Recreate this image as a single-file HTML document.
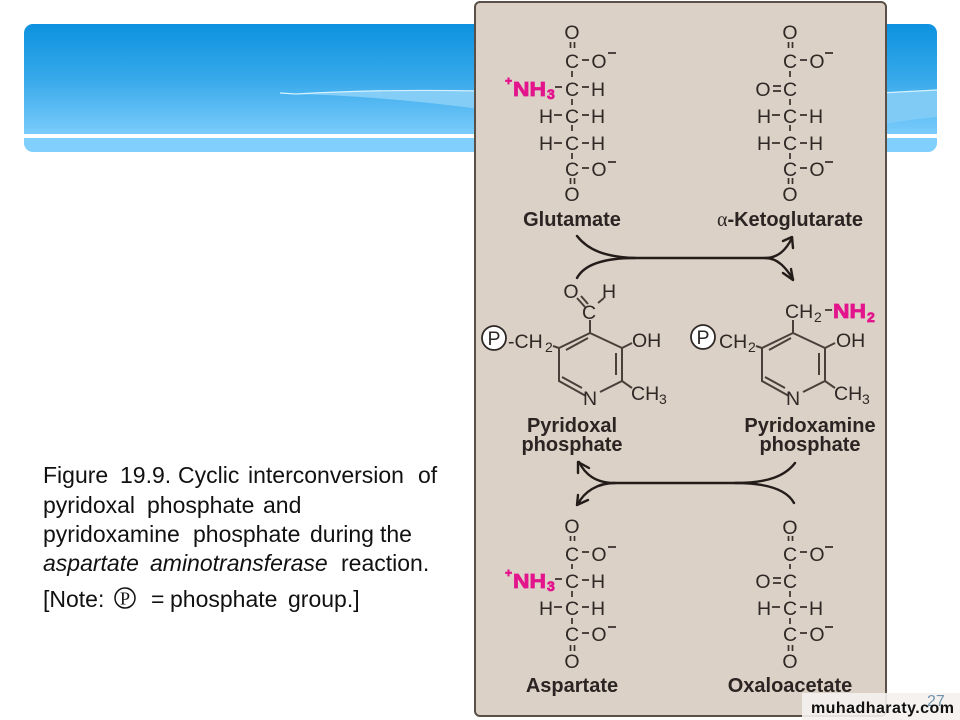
<!DOCTYPE html>
<html><head><meta charset="utf-8"><style>
html,body{margin:0;padding:0;background:#fff}
svg{display:block}
text{font-family:"Liberation Sans",sans-serif}
.a{font-size:19.5px;text-anchor:middle;fill:#2f2825}
.s{font-size:19.5px;fill:#2f2825}
.sub{font-size:14px;fill:#2f2825}
.l{font-size:20px;font-weight:bold;text-anchor:middle;fill:#2b2422}
.p{font-weight:bold;fill:#e3148c;stroke:#e3148c;stroke-width:.8}
.t{font-size:23px;fill:#111}
.b{stroke:#3a312c;stroke-width:1.7;fill:none}
.r{stroke:#4a403a;stroke-width:2;fill:none}
.w{stroke:#231c19;fill:none;stroke-linecap:round;stroke-linejoin:round}
</style></head><body>
<svg width="960" height="720" viewBox="0 0 960 720" xmlns="http://www.w3.org/2000/svg">
<defs>
<linearGradient id="g" x1="0" y1="0" x2="0" y2="1">
<stop offset="0" stop-color="#0d92df"/><stop offset=".5" stop-color="#37a9ea"/><stop offset="1" stop-color="#7acbfb"/>
</linearGradient>
<clipPath id="bc"><rect x="24" y="24" width="913" height="128" rx="9"/></clipPath>
</defs>
<rect width="960" height="720" fill="#fff"/>
<g clip-path="url(#bc)">
<rect x="24" y="24" width="913" height="110" fill="url(#g)"/>
<rect x="24" y="134" width="913" height="4" fill="#fff"/>
<rect x="24" y="138" width="913" height="14" fill="#80cffc"/>
<path d="M296 94 Q380 89 480 91 L480 109 Q380 96 296 94Z" fill="#83cdf6"/>
<path d="M280 93 L296 94 Q380 89 480 91" stroke="#d5f1ff" stroke-width="1.2" fill="none"/>
<path d="M880 93 L937 90 L937 117 Q905 120 880 125Z" fill="#7fcbf6"/>
<path d="M880 93 L937 90" stroke="#d5f1ff" stroke-width="1.2" fill="none"/>
</g>
<rect x="475" y="2" width="411" height="714" rx="5" fill="#dbd1c7" stroke="#5a5048" stroke-width="2"/>

<!-- Glutamate -->
<text class="a" x="572" y="39">O</text><text class="a" x="572" y="68">C</text><text class="a" x="572" y="96">C</text><text class="a" x="572" y="123">C</text><text class="a" x="572" y="150">C</text><text class="a" x="572" y="176">C</text><text class="a" x="572" y="201">O</text>
<text class="a" x="599" y="68">O</text><text class="a" x="599" y="176">O</text>
<text class="a" x="598" y="96">H</text><text class="a" x="598" y="123">H</text><text class="a" x="598" y="150">H</text>
<text class="a" x="546" y="123">H</text><text class="a" x="546" y="150">H</text>
<path class="b" d="M570.5 42V48M574.5 42V48M570.5 178V184M574.5 178V184M572 71V77M572 99V105M572 125V131M572 153V159M582 60H589M582 87H589M582 115H589M582 143H589M582 168H589M554 115H562M554 143H562M555 87H562M608 53H616M608 162H616"/>
<text class="p" x="513" y="96" font-size="20" textLength="33" lengthAdjust="spacingAndGlyphs">NH</text>
<text class="p" x="547" y="99" font-size="14">3</text>
<text class="p" x="505" y="85" font-size="12">+</text>
<text class="l" x="572" y="226">Glutamate</text>

<!-- Ketoglutarate -->
<text class="a" x="790" y="39">O</text><text class="a" x="790" y="68">C</text><text class="a" x="790" y="96">C</text><text class="a" x="790" y="123">C</text><text class="a" x="790" y="150">C</text><text class="a" x="790" y="176">C</text><text class="a" x="790" y="201">O</text>
<text class="a" x="817" y="68">O</text><text class="a" x="817" y="176">O</text>
<text class="a" x="763" y="96">O</text>
<text class="a" x="816" y="123">H</text><text class="a" x="816" y="150">H</text>
<text class="a" x="764" y="123">H</text><text class="a" x="764" y="150">H</text>
<path class="b" d="M788.5 42V48M792.5 42V48M788.5 178V184M792.5 178V184M790 71V77M790 99V105M790 125V131M790 153V159M800 60H807M800 115H807M800 143H807M800 168H807M772 115H780M772 143H780M773 86H781M773 91H781M825 53H833M825 162H833"/>
<text class="l" x="790" y="226"><tspan font-family="Liberation Serif" font-weight="normal">α</tspan>-Ketoglutarate</text>

<!-- Top arrows -->
<path class="w" stroke-width="2.4" d="M577 236 C588 250 605 257 635 258 L765 258 C778 258 786 250 792 238"/>
<path class="w" stroke-width="2.4" d="M577 278 C584 265 603 258 635 258 M765 258 C778 258 786 268 793 279"/>
<path class="w" stroke-width="2.4" d="M783 241 L792 237 L793 248 M783 273 L793 280 L791 269"/>

<!-- Pyridoxal phosphate -->
<text class="a" x="571" y="298">O</text><text class="a" x="609" y="298">H</text><text class="a" x="589" y="319">C</text>
<path class="r" d="M577 298L585 307M581 296L588 304M598 303L604 298M590 320V333"/>
<path class="r" d="M590 333L622 348V381L600 392M586 396L559 381V348L590 333M566 350L588 338M616 353V375M562 377L582 388M622 381L632 388M622 348L632 343M553 346L559 348"/>
<circle cx="494" cy="338" r="12" fill="#fff" stroke="#2f2825" stroke-width="1.8"/>
<text class="a" x="494" y="345">P</text>
<text class="s" x="508" y="348">-CH</text><text class="sub" x="545" y="352">2</text>
<text class="s" x="632" y="347">OH</text>
<text class="s" x="631" y="400">CH</text><text class="sub" x="659" y="404">3</text>
<text class="a" x="590" y="405">N</text>
<text class="l" x="572" y="432">Pyridoxal</text><text class="l" x="572" y="451">phosphate</text>

<!-- Pyridoxamine phosphate -->
<path class="r" d="M793 320V333M793 333L825 348V381L803 392M789 396L762 381V348L793 333M769 350L791 338M819 353V375M765 377L785 388M825 381L835 388M825 348L835 343M756 346L762 348"/>
<circle cx="703" cy="337" r="12" fill="#fff" stroke="#2f2825" stroke-width="1.8"/>
<text class="a" x="703" y="344">P</text>
<text class="s" x="719" y="348">CH</text><text class="sub" x="748" y="352">2</text>
<text class="s" x="785" y="318">CH</text><text class="sub" x="814" y="322">2</text>
<path class="b" d="M825 310H832"/>
<text class="p" x="833" y="318" font-size="20" textLength="33" lengthAdjust="spacingAndGlyphs">NH</text>
<text class="p" x="867" y="322" font-size="14">2</text>
<text class="s" x="836" y="347">OH</text>
<text class="s" x="834" y="400">CH</text><text class="sub" x="862" y="404">3</text>
<text class="a" x="793" y="405">N</text>
<text class="l" x="810" y="432">Pyridoxamine</text><text class="l" x="810" y="451">phosphate</text>

<!-- Bottom arrows -->
<path class="w" stroke-width="2.4" d="M795 463 C785 476 768 483 735 483 L615 483 C595 483 585 474 579 462"/>
<path class="w" stroke-width="2.4" d="M794 503 C787 490 768 483 735 483 M615 483 C597 483 584 492 578 504"/>
<path class="w" stroke-width="2.4" d="M589 468 L578 462 L578 473 M588 500 L577 505 L578 495"/>

<!-- Aspartate -->
<text class="a" x="572" y="533">O</text><text class="a" x="572" y="561">C</text><text class="a" x="572" y="588">C</text><text class="a" x="572" y="615">C</text><text class="a" x="572" y="641">C</text><text class="a" x="572" y="668">O</text>
<text class="a" x="599" y="561">O</text><text class="a" x="599" y="641">O</text>
<text class="a" x="598" y="588">H</text><text class="a" x="598" y="615">H</text>
<text class="a" x="546" y="615">H</text>
<path class="b" d="M570.5 536V541M574.5 536V541M570.5 645V651M574.5 645V651M572 564V569M572 591V597M572 618V624M582 552H589M582 580H589M582 607H589M582 633H589M554 607H562M555 579H562M608 547H616M608 627H616"/>
<text class="p" x="513" y="588" font-size="20" textLength="33" lengthAdjust="spacingAndGlyphs">NH</text>
<text class="p" x="547" y="591" font-size="14">3</text>
<text class="p" x="505" y="577" font-size="12">+</text>
<text class="l" x="572" y="692">Aspartate</text>

<!-- Oxaloacetate -->
<text class="a" x="790" y="534">O</text><text class="a" x="790" y="561">C</text><text class="a" x="790" y="588">C</text><text class="a" x="790" y="615">C</text><text class="a" x="790" y="641">C</text><text class="a" x="790" y="668">O</text>
<text class="a" x="817" y="561">O</text><text class="a" x="817" y="641">O</text>
<text class="a" x="763" y="588">O</text>
<text class="a" x="816" y="615">H</text><text class="a" x="764" y="615">H</text>
<path class="b" d="M788.5 536V541M792.5 536V541M788.5 645V651M792.5 645V651M790 564V569M790 591V597M790 618V624M800 552H807M800 607H807M800 633H807M772 607H780M773 578H781M773 583H781M825 547H833M825 627H833"/>
<text class="l" x="790" y="692">Oxaloacetate</text>

<!-- Caption -->
<text class="t" y="483"><tspan x="43">Figure</tspan><tspan x="120">19.9.</tspan><tspan x="178">Cyclic</tspan><tspan x="248">interconversion</tspan><tspan x="418">of</tspan></text>
<text class="t" y="513"><tspan x="43">pyridoxal</tspan><tspan x="147">phosphate</tspan><tspan x="263">and</tspan></text>
<text class="t" y="542"><tspan x="43">pyridoxamine</tspan><tspan x="193">phosphate</tspan><tspan x="310">during</tspan><tspan x="380">the</tspan></text>
<text class="t" y="571"><tspan x="43" font-style="italic">aspartate</tspan><tspan x="150" font-style="italic">aminotransferase</tspan><tspan x="341">reaction.</tspan></text>
<text class="t" y="607"><tspan x="43">[Note:</tspan><tspan x="151">=</tspan><tspan x="170">phosphate</tspan><tspan x="288">group.]</tspan></text>
<circle cx="125" cy="598" r="10" fill="none" stroke="#111" stroke-width="1.5"/>
<text x="125" y="604.500" font-size="18" text-anchor="middle" fill="#111" style="font-family:'Liberation Serif',serif">P</text>

<!-- Watermark -->
<rect x="802" y="693" width="158" height="27" fill="#f4f1ee" opacity=".9"/>
<text x="927" y="706" font-size="16" fill="#6f93ad">27</text>
<text x="811" y="713" font-size="16" font-weight="bold" fill="#111" textLength="143">muhadharaty.com</text>
</svg>
</body></html>
